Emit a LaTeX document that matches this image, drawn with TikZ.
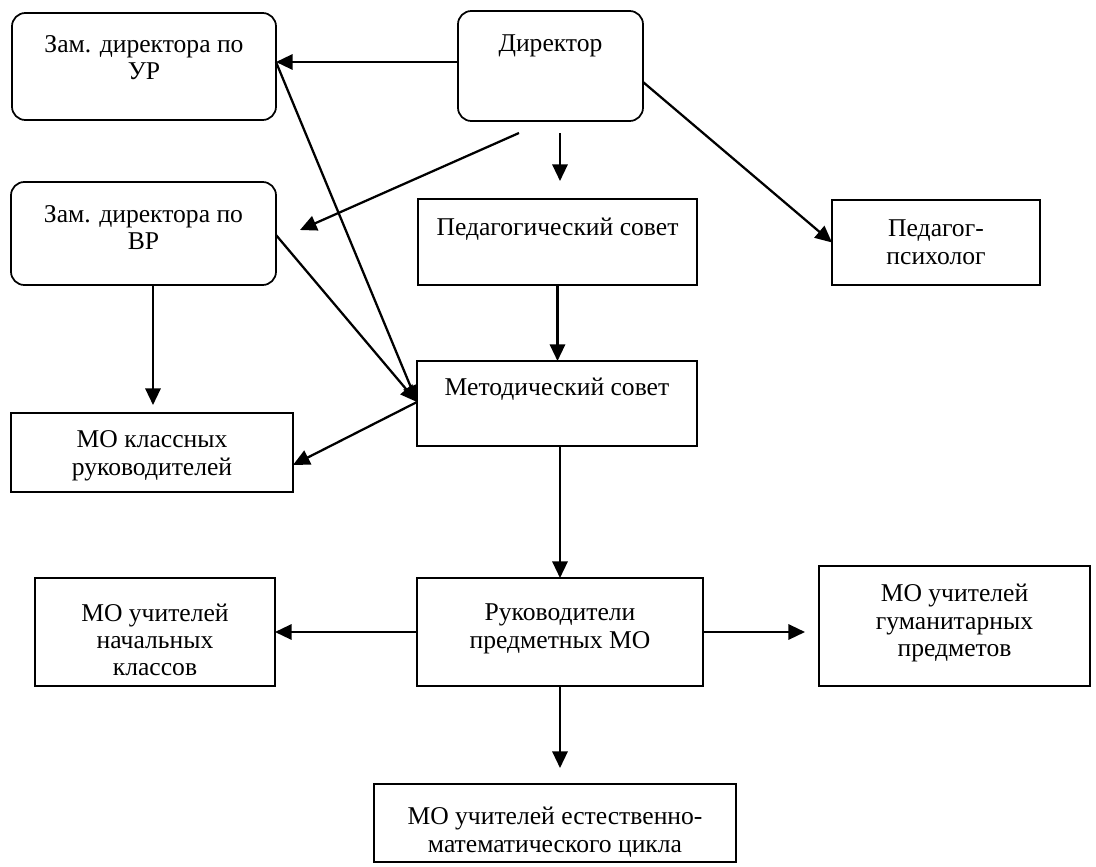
\documentclass[tikz,border=0pt]{standalone}
\usepackage{fontspec}
\setmainfont{Liberation Serif}
\usetikzlibrary{arrows.meta,calc}
\newcommand\mkbox[8]{%
 \pgfmathsetmacro\bw{(#5-#3)*0.75}%
 \pgfmathsetmacro\bh{(#6-#4)*0.75}%
 \node[#2, anchor=north west] (#1) at (#3,#4) {\parbox[c][\bh pt][t]{\bw pt}{\centering\vspace*{#7pt}\strut #8\par}};}
\tikzset{
  box/.style={draw, line width=1.3pt, inner sep=0pt, outer sep=0pt, font=\fontsize{19.2}{20.3}\selectfont},
  rbox/.style={box, rounded corners=10pt},
  arr/.style={line width=1.7pt, -{Triangle[length=12.5pt,width=11.5pt]}}
}
\begin{document}
\begin{tikzpicture}[x=0.75pt,y=-0.75pt]
\useasboundingbox (0,0) rectangle (1096,867);
\mkbox{zur}{rbox}{12}{13}{276}{120}{15.5}{Зам. директора по\\УР}
\mkbox{dir}{rbox}{458}{11}{643}{121}{16}{Директор}
\mkbox{zvr}{rbox}{11}{182}{276}{285}{16}{Зам. директора по\\ВР}
\mkbox{ps}{box}{418}{199}{697}{285}{13.5}{Педагогический совет}
\mkbox{pp}{box}{832}{200}{1040}{285}{13.5}{Педагог-\\психолог}
\mkbox{met}{box}{417}{361}{697}{446}{12}{Методический совет}
\mkbox{mok}{box}{11}{413}{293}{492}{12}{МО классных\\руководителей}
\mkbox{nach}{box}{35}{578}{275}{686}{18.5}{МО учителей\\начальных\\классов}
\mkbox{ruk}{box}{417}{578}{703}{686}{18}{Руководители\\предметных МО}
\mkbox{gum}{box}{819}{566}{1090}{686}{12.75}{МО учителей\\гуманитарных\\предметов}
\mkbox{est}{box}{374}{784}{736}{862}{16.5}{МО учителей естественно-\\математического цикла}
% free ends
\coordinate (d1) at (519,133);
\coordinate (v1) at (300,230);
\coordinate (d2) at (560,133);
\coordinate (p1) at (560,181);
\coordinate (k1) at (153,405);
\coordinate (g1) at (805,632);
\coordinate (e1) at (560,768);
% connectors
\draw[arr] ($(dir.north west)+(0,51)$) -- ($(zur.north east)+(0,49)$);
\draw[arr] ($(zur.north east)+(0,49)$) -- ($(met.north west)+(0,41)$);
\draw[arr] ($(zvr.north east)+(0,53)$) -- ($(met.north west)+(0,41)$);
\draw[arr] (d1) -- (v1);
\draw[arr] (d2) -- (p1);
\draw[arr] ($(dir.north east)+(0,71)$) -- (pp.west);
\draw[arr] (ps.south) -- (ps.south |- met.north);
\draw[arr] ($(zvr.south)+(9.5,0)$) -- (k1);
\draw[arr] ($(met.north west)+(0,41)$) -- ($(mok.north east)+(0,52)$);
\draw[arr] (met.south -| ruk.north) -- (ruk.north);
\draw[arr] (ruk.west) -- (nach.east);
\draw[arr] (ruk.east) -- (g1);
\draw[arr] (ruk.south) -- (e1);
\end{tikzpicture}
\end{document}
